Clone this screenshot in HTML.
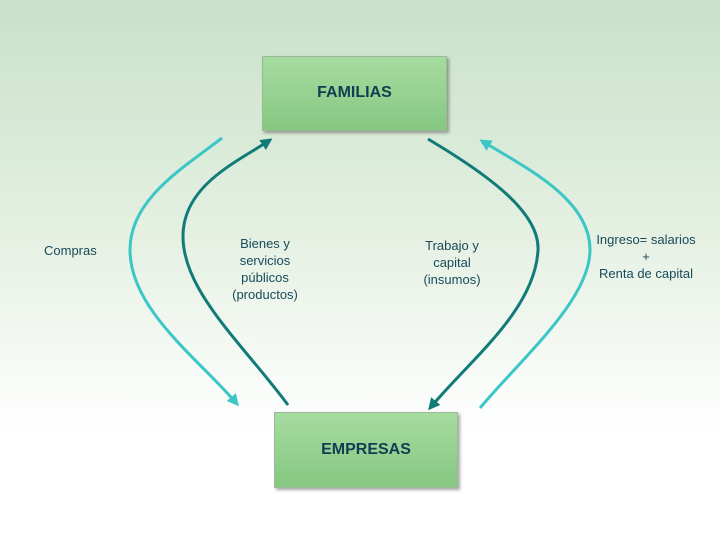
<!DOCTYPE html>
<html><head><style>
body{margin:0;width:720px;height:540px;overflow:hidden;background:linear-gradient(#c8e1c8 0%,#e6f1e4 45%,#ffffff 80%,#ffffff 100%);font-family:"Liberation Sans",sans-serif;position:relative}
.box{position:absolute;background:linear-gradient(#a6dca0,#86c781);border:1px solid #9bb89a;box-shadow:2px 2px 3px rgba(0,0,0,.35);display:flex;align-items:center;justify-content:center;font-weight:bold;color:#123d52;font-size:16px}
.t{position:absolute;color:#184a5a;font-size:13px;text-align:center;line-height:17px}
</style></head><body>
<svg width="720" height="540" style="position:absolute;left:0;top:0">
<defs>
<marker id="a1" markerWidth="4" markerHeight="4" refX="3" refY="2" orient="auto" markerUnits="strokeWidth"><path d="M0,0L4,2L0,4z" fill="#117b78"/></marker>
<marker id="a2" markerWidth="4" markerHeight="4" refX="3" refY="2" orient="auto" markerUnits="strokeWidth"><path d="M0,0L4,2L0,4z" fill="#3cc6c6"/></marker>
</defs>
<path d="M288,405 C240,340 170,280 185,220 C195,180 240,160 270,140" stroke="#117b78" stroke-width="3" fill="none" marker-end="url(#a1)"/>
<path d="M428,139 C480,170 540,210 538,250 C535,310 470,360 430,408" stroke="#117b78" stroke-width="3" fill="none" marker-end="url(#a1)"/>
<path d="M222,138 C180,170 130,200 130,250 C130,310 200,360 237,404" stroke="#3cc6c6" stroke-width="3" fill="none" marker-end="url(#a2)"/>
<path d="M480,408 C520,360 590,300 590,250 C590,200 530,170 482,141" stroke="#3cc6c6" stroke-width="3" fill="none" marker-end="url(#a2)"/>
</svg>
<div class="box" style="left:262px;top:56px;width:183px;height:73px"><span style="margin-top:-2px">FAMILIAS</span></div>
<div class="box" style="left:274px;top:412px;width:182px;height:74px">EMPRESAS</div>
<div class="t" style="left:44px;top:242px">Compras</div>
<div class="t" style="left:215px;top:235px;width:100px">Bienes y<br>servicios<br>públicos<br>(productos)</div>
<div class="t" style="left:402px;top:237px;width:100px">Trabajo y<br>capital<br>(insumos)</div>
<div class="t" style="left:581px;top:231px;width:130px">Ingreso= salarios<br>+<br>Renta de capital</div>
</body></html>
